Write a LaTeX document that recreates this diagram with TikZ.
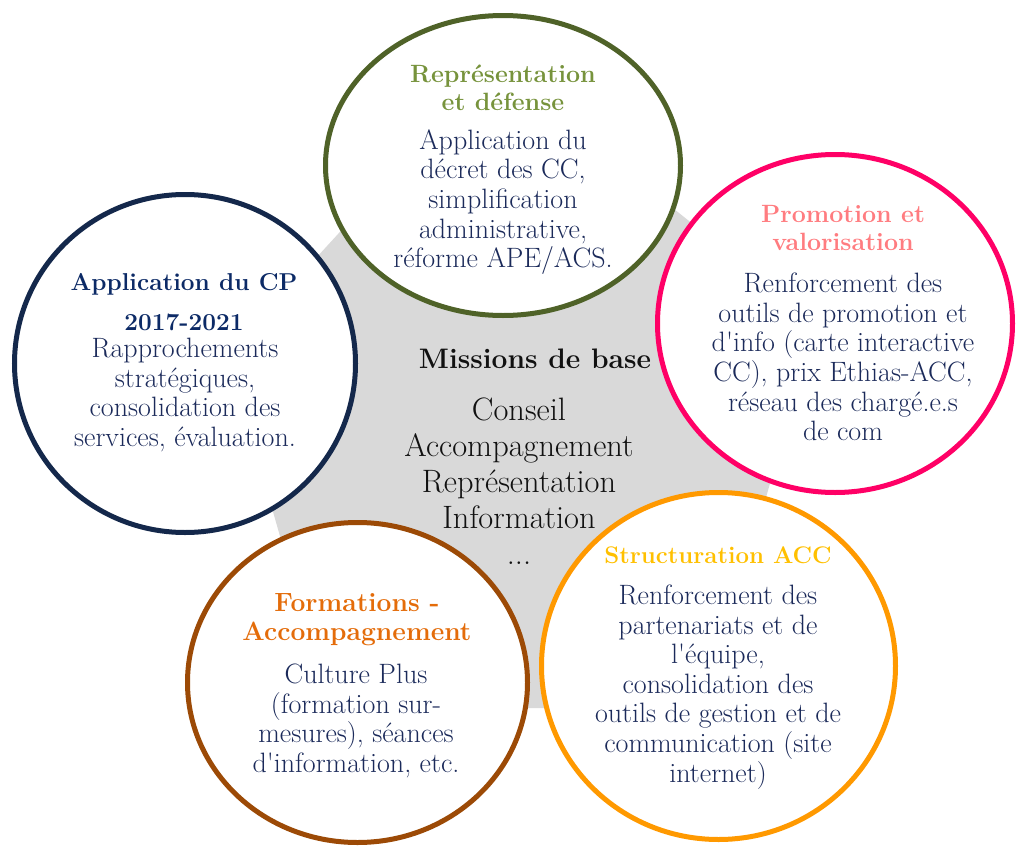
\documentclass[tikz,border=0pt]{standalone}
\usepackage{fontspec}
\setmainfont{Latin Modern Roman}[Ligatures=TeXOff]
\usetikzlibrary{shapes.geometric}

\definecolor{basegray}{HTML}{D9D9D9}
\definecolor{bodyblue}{HTML}{1B2A5A}
\definecolor{centertext}{HTML}{111111}
\definecolor{olivering}{HTML}{4F6228}
\definecolor{olivehead}{HTML}{77933C}
\definecolor{navyring}{HTML}{14284B}
\definecolor{navyhead}{HTML}{0C2A66}
\definecolor{pinkring}{HTML}{FF0066}
\definecolor{pinkhead}{HTML}{FF7C80}
\definecolor{brownring}{HTML}{9C4A06}
\definecolor{brownhead}{HTML}{E46C0A}
\definecolor{orangering}{HTML}{FF9900}
\definecolor{orangehead}{HTML}{FFC000}

\begin{document}
\begin{tikzpicture}[x=1pt,y=-1pt,
  ring/.style={ellipse,draw,line width=5pt,fill=white,inner sep=0pt},
  head/.style={font=\fontsize{25}{28}\selectfont\bfseries,align=center},
  txt/.style={font=\fontsize{28}{29.6}\selectfont,align=center,text=bodyblue}
]
\useasboundingbox (0,0) rectangle (1018,846);

\fill[basegray] (493,65) -- (816,322) -- (706,708) -- (329,708) -- (228,354) -- cycle;

\node[ring,draw=olivering,minimum width=355pt,minimum height=300pt] (defense) at (503,165.5) {};
\node[ring,draw=navyring,minimum width=341pt,minimum height=338pt] (plan) at (185,363.5) {};
\node[ring,draw=pinkring,minimum width=355pt,minimum height=338pt] (promo) at (835,323.5) {};
\node[ring,draw=brownring,minimum width=340pt,minimum height=320pt] (formation) at (357.5,682.5) {};
\node[ring,draw=orangering,minimum width=354pt,minimum height=347pt] (structure) at (718.5,666) {};

% centre
\node[font=\fontsize{28.2}{32}\selectfont\bfseries,text=centertext,anchor=base] (baseT) at (535,368) {Missions de base};
\node[font=\fontsize{32.4}{36}\selectfont,align=center,text=centertext] (baseB) at (519,481)
  {Conseil\\Accompagnement\\Représentation\\Information\\...};

\node[head,text=olivehead] (defenseT) at (503,88) {Représentation\\et défense};
\node[txt] (defenseB) at (503,202) {Application du\\décret des CC,\\simplification\\administrative,\\réforme APE/ACS.};

\node[head,font=\fontsize{24.4}{40}\selectfont\bfseries,text=navyhead] (planT) at (184,302) {Application du CP\\2017-2021};
\node[txt] (planB) at (185,395) {Rapprochements\\stratégiques,\\consolidation des\\services, évaluation.};

\node[head,text=pinkhead] (promoT) at (843,228) {Promotion et\\valorisation};
\node[txt] (promoB) at (843,357) {Renforcement des\\outils de promotion et\\d'info (carte interactive\\CC), prix Ethias-ACC,\\réseau des chargé.e.s\\de com};

\node[head,font=\fontsize{26.4}{29}\selectfont\bfseries,text=brownhead] (formationT) at (357,620) {Formations -\\Accompagnement};
\node[txt] (formationB) at (356,721) {Culture Plus\\(formation sur-\\mesures), séances\\d'information, etc.};

\node[head,font=\fontsize{24}{28}\selectfont\bfseries,text=orangehead,anchor=base] (structureT) at (718,563) {Structuration ACC};
\node[txt] (structureB) at (718,687) {Renforcement des\\partenariats et de\\l'équipe,\\consolidation des\\outils de gestion et de\\communication (site\\internet)};
\end{tikzpicture}
\end{document}
